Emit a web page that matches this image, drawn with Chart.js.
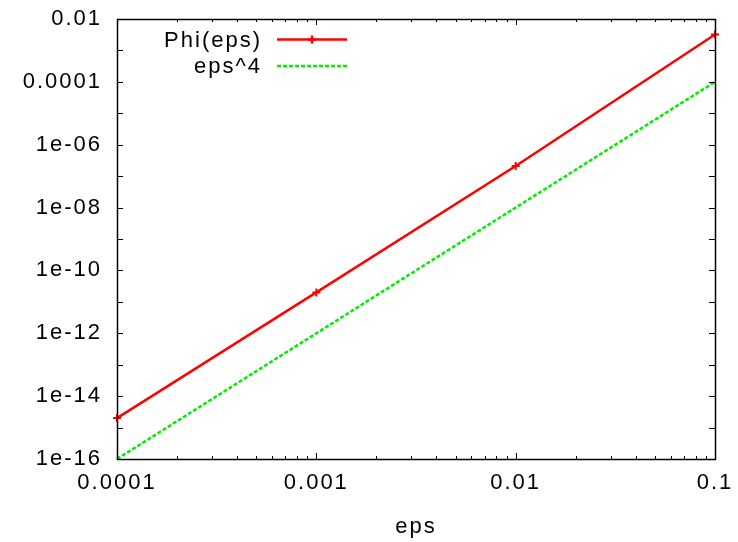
<!DOCTYPE html>
<html>
<head>
<meta charset="utf-8">
<script src="https://cdn.jsdelivr.net/npm/chart.js@4"></script>
<style>
  html, body { margin: 0; padding: 0; background: #fff; }
  #wrap { width: 738px; height: 542px; }
</style>
</head>
<body>
<div id="wrap"><canvas id="chart"></canvas></div>
<script>
// values
const epsValues = [0.0001, 0.001, 0.01, 0.1]
const phiValues = [2.0e-15, 2.0e-11, 2.1e-7, 3.2e-3]
const eps4Values = [1e-16, 1e-12, 1e-8, 1e-4]

const xTicks = [0.0001, 0.001, 0.01, 0.1]
const xTickLabels = ['0.0001', '0.001', '0.01', '0.1']
const yTicks = [1e-16, 1e-14, 1e-12, 1e-10, 1e-8, 1e-6, 1e-4, 1e-2]
const yTickLabels = ['1e-16', '1e-14', '1e-12', '1e-10', '1e-08', '1e-06', '0.0001', '0.01']

const FONT = { family: '"Liberation Sans", Arial, sans-serif', size: 22 }

const gnuplotFrame = {
  id: 'gnuplotFrame',
  beforeDraw(chart) {
    chart.ctx.letterSpacing = '2px'
  },
  afterDatasetsDraw(chart) {
    const { ctx, chartArea: a, scales } = chart
    const x = scales.x
    const y = scales.y
    ctx.save()
    ctx.strokeStyle = '#000'
    ctx.lineWidth = 1
    ctx.beginPath()
    // x ticks, major and minor, bottom and top
    for (let d = -4; d <= -1; d++) {
      for (let m = 1; m <= 9; m++) {
        const v = m * Math.pow(10, d)
        if (v > 0.1 + 1e-12) break
        const px = Math.round(x.getPixelForValue(v)) + 0.5
        const len = m === 1 ? 6 : 3
        ctx.moveTo(px, a.bottom); ctx.lineTo(px, a.bottom - len)
        ctx.moveTo(px, a.top); ctx.lineTo(px, a.top + len)
      }
    }
    // y ticks every decade, left and right
    for (let d = -16; d <= -2; d++) {
      const py = Math.round(y.getPixelForValue(Math.pow(10, d))) + 0.5
      ctx.moveTo(a.left, py); ctx.lineTo(a.left + 6, py)
      ctx.moveTo(a.right, py); ctx.lineTo(a.right - 6, py)
    }
    ctx.stroke()
    ctx.lineWidth = 1.5
    ctx.strokeRect(Math.round(a.left) + 0.5, Math.round(a.top) + 0.5,
      Math.round(a.right - a.left), Math.round(a.bottom - a.top))

    // key, gnuplot style: text then line sample
    ctx.font = `${FONT.size}px ${FONT.family}`
    ctx.textAlign = 'right'
    ctx.textBaseline = 'middle'
    ctx.fillStyle = '#000'
    chart.data.datasets.forEach((ds, i) => {
      const ly = 39.5 + i * 26.5
      ctx.fillText(ds.label, 262, ly + 1)
      ctx.save()
      ctx.strokeStyle = ds.borderColor
      ctx.lineWidth = ds.borderWidth
      ctx.setLineDash(ds.borderDash || [])
      ctx.beginPath()
      ctx.moveTo(277, ly); ctx.lineTo(347, ly)
      ctx.stroke()
      if (ds.pointRadius > 0) {
        ctx.setLineDash([])
        ctx.beginPath()
        ctx.moveTo(312 - 4, ly); ctx.lineTo(312 + 4, ly)
        ctx.moveTo(312, ly - 4); ctx.lineTo(312, ly + 4)
        ctx.stroke()
      }
      ctx.restore()
    })
    ctx.restore()
  },
}

new Chart(document.getElementById('chart'), {
  type: 'line',
  data: {
    datasets: [
      {
        label: 'Phi(eps)',
        data: epsValues.map((e, i) => ({ x: e, y: phiValues[i] })),
        borderColor: '#ff0000',
        backgroundColor: '#ff0000',
        borderWidth: 2.5,
        pointStyle: 'cross',
        pointRadius: 4,
        pointBorderWidth: 2,
        tension: 0,
      },
      {
        label: 'eps^4',
        data: epsValues.map((e, i) => ({ x: e, y: eps4Values[i] })),
        borderColor: '#00ee00',
        backgroundColor: '#00ee00',
        borderWidth: 2.5,
        borderDash: [4, 2],
        pointRadius: 0,
        tension: 0,
      },
    ],
  },
  plugins: [gnuplotFrame],
  options: {
    responsive: true,
    maintainAspectRatio: false,
    animation: false,
    clip: false,
    layout: { padding: { left: 0, top: 19, right: 23, bottom: 0 } },
    plugins: {
      legend: { display: false },
      tooltip: { enabled: false },
    },
    scales: {
      x: {
        type: 'logarithmic',
        min: 0.0001,
        max: 0.1,
        afterBuildTicks: (scale) => { scale.ticks = xTicks.map((v) => ({ value: v })) },
        afterFit: (scale) => {
          scale.height = 83
          scale.paddingLeft = 0
          scale.paddingRight = 0
        },
        ticks: {
          color: '#000',
          font: FONT,
          padding: 11,
          maxRotation: 0,
          autoSkip: false,
          callback: (v) => xTickLabels[xTicks.indexOf(v)] ?? '',
        },
        grid: { display: false, drawTicks: false },
        border: { display: false },
        title: {
          display: true,
          text: 'eps',
          color: '#000',
          font: FONT,
          padding: { top: 0, bottom: 2 },
        },
      },
      y: {
        type: 'logarithmic',
        min: 1e-16,
        max: 1e-2,
        afterBuildTicks: (scale) => { scale.ticks = yTicks.map((v) => ({ value: v })) },
        afterFit: (scale) => {
          scale.width = 117
          scale.paddingTop = 0
          scale.paddingBottom = 0
        },
        ticks: {
          color: '#000',
          font: FONT,
          padding: 15,
          autoSkip: false,
          callback: (v) => {
            const i = yTicks.findIndex((t) => Math.abs(Math.log10(t) - Math.log10(v)) < 1e-6)
            return i >= 0 ? yTickLabels[i] : ''
          },
        },
        grid: { display: false, drawTicks: false },
        border: { display: false },
      },
    },
  },
})
</script>
</body>
</html>
